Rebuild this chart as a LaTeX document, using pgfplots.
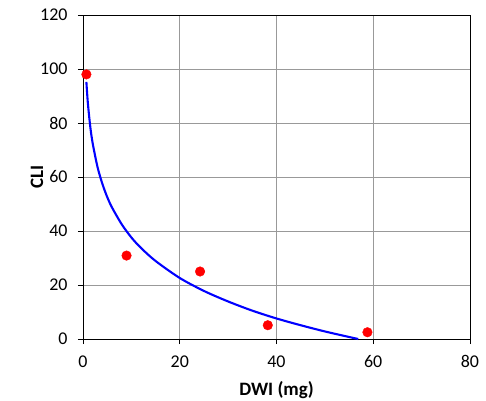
\documentclass[border=0pt]{standalone}
\usepackage{pgfplots}
\pgfplotsset{compat=1.18}
\usepackage{fontspec}
\setmainfont{Carlito}
\begin{document}
\begin{tikzpicture}
\useasboundingbox (-83bp,-62bp) rectangle (403bp,339bp);
\begin{axis}[
  at={(0,0)}, anchor=south west,
  scale only axis, width=387bp, height=324bp,
  xmin=0, xmax=80, ymin=0, ymax=120,
  xtick={0,20,...,80}, ytick={0,20,...,120},
  grid=major,
  major grid style={draw=black!40, line width=0.9pt},
  axis line style={draw=black, line width=0.9pt},
  tick style={draw=black, line width=0.9pt},
  tick align=outside, major tick length=5bp,
  xtick pos=bottom, ytick pos=left,
  tick label style={font=\fontsize{18}{22}\selectfont},
  xticklabel style={yshift=-8bp},
  yticklabel style={xshift=-7bp},
  /pgf/number format/assume math mode=true,
  xlabel={\textbf{DWI (mg)}}, ylabel={\textbf{CLI}},
  label style={font=\fontsize{19}{22}\selectfont},
  xlabel style={yshift=-7bp},
  ylabel style={yshift=-10bp},
  clip=false,
]
\addplot[blue, line width=2.1pt, no marks, smooth] coordinates {
 (0.7,95.2) (1,87.5) (1.5,78.7) (2,72.5) (3,63.7) (4,57.5) (5,52.6) (6,48.7)
 (8,42.5) (10,37.6) (12,33.7) (15,28.9) (20,22.6) (25,17.8) (30,13.9)
 (35,10.5) (40,7.6) (45,5.1) (50,2.8) (55,0.75) (56.9,0)
};
\addplot[only marks, mark=*, mark size=4.8bp, color=red, fill=red] coordinates {
 (0.7,98.0) (9.0,30.9) (24.2,25.0) (38.2,5.1) (58.8,2.5)
};
\end{axis}
\end{tikzpicture}
\end{document}
